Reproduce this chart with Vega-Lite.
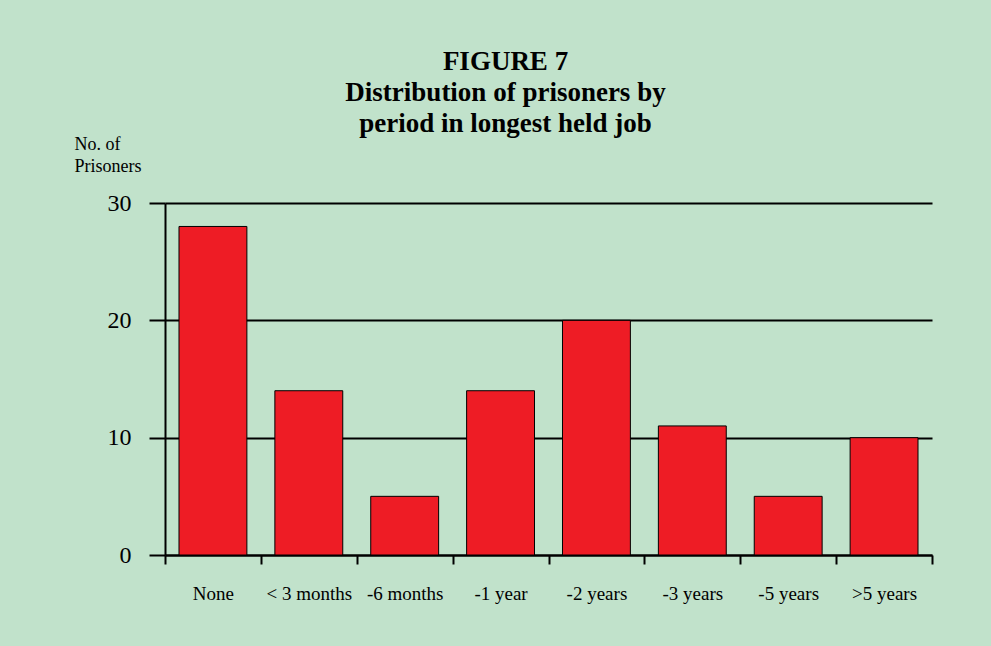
{
  "$schema": "https://vega.github.io/schema/vega-lite/v6.json",
  "autosize": "none",
  "width": 767,
  "height": 352,
  "padding": {"left": 165, "top": 203, "right": 59, "bottom": 91},
  "background": "#c1e2cb",
  "title": {
    "text": ["FIGURE 7", "Distribution of prisoners by", "period in longest held job"],
    "font": "Liberation Serif",
    "fontSize": 27,
    "fontWeight": "bold",
    "lineHeight": 31,
    "color": "#000000",
    "anchor": "middle",
    "frame": "group",
    "dx": -43,
    "dy": 7
  },
  "data": {
    "values": [
      {"period": "None", "prisoners": 28},
      {"period": "< 3 months", "prisoners": 14},
      {"period": "-6 months", "prisoners": 5},
      {"period": "-1 year", "prisoners": 14},
      {"period": "-2 years", "prisoners": 20},
      {"period": "-3 years", "prisoners": 11},
      {"period": "-5 years", "prisoners": 5},
      {"period": ">5 years", "prisoners": 10}
    ]
  },
  "mark": {"type": "bar", "color": "#ee1c25", "stroke": "#000000", "strokeWidth": 1, "width": {"band": 0.708}},
  "encoding": {
    "x": {
      "field": "period",
      "type": "nominal",
      "sort": null,
      "scale": {"paddingInner": 0, "paddingOuter": 0},
      "axis": {
        "title": null,
        "labelAngle": 0,
        "labelFont": "Liberation Serif",
        "labelFontSize": 19,
        "labelColor": "#000000",
        "labelPadding": 20,
        "tickBand": "extent",
        "tickSize": 9,
        "tickWidth": 2,
        "tickColor": "#000000",
        "domainColor": "#000000",
        "domainWidth": 2
      }
    },
    "y": {
      "field": "prisoners",
      "type": "quantitative",
      "scale": {"domain": [0, 30]},
      "axis": {
        "values": [0, 10, 20, 30],
        "title": ["No. of", "Prisoners"],
        "titleAngle": 0,
        "titleAlign": "left",
        "titleBaseline": "alphabetic",
        "titleX": -91,
        "titleY": -54,
        "titleFont": "Liberation Serif",
        "titleFontSize": 18,
        "titleFontWeight": "normal",
        "titleLineHeight": 22,
        "titleColor": "#000000",
        "labelFont": "Liberation Serif",
        "labelFontSize": 24,
        "labelColor": "#000000",
        "labelPadding": 18,
        "tickSize": 16,
        "tickWidth": 2,
        "tickColor": "#000000",
        "domainColor": "#000000",
        "domainWidth": 2,
        "grid": true,
        "gridColor": "#000000",
        "gridWidth": 2,
        "gridOpacity": 1
      }
    }
  },
  "config": {"view": {"stroke": null}}
}
